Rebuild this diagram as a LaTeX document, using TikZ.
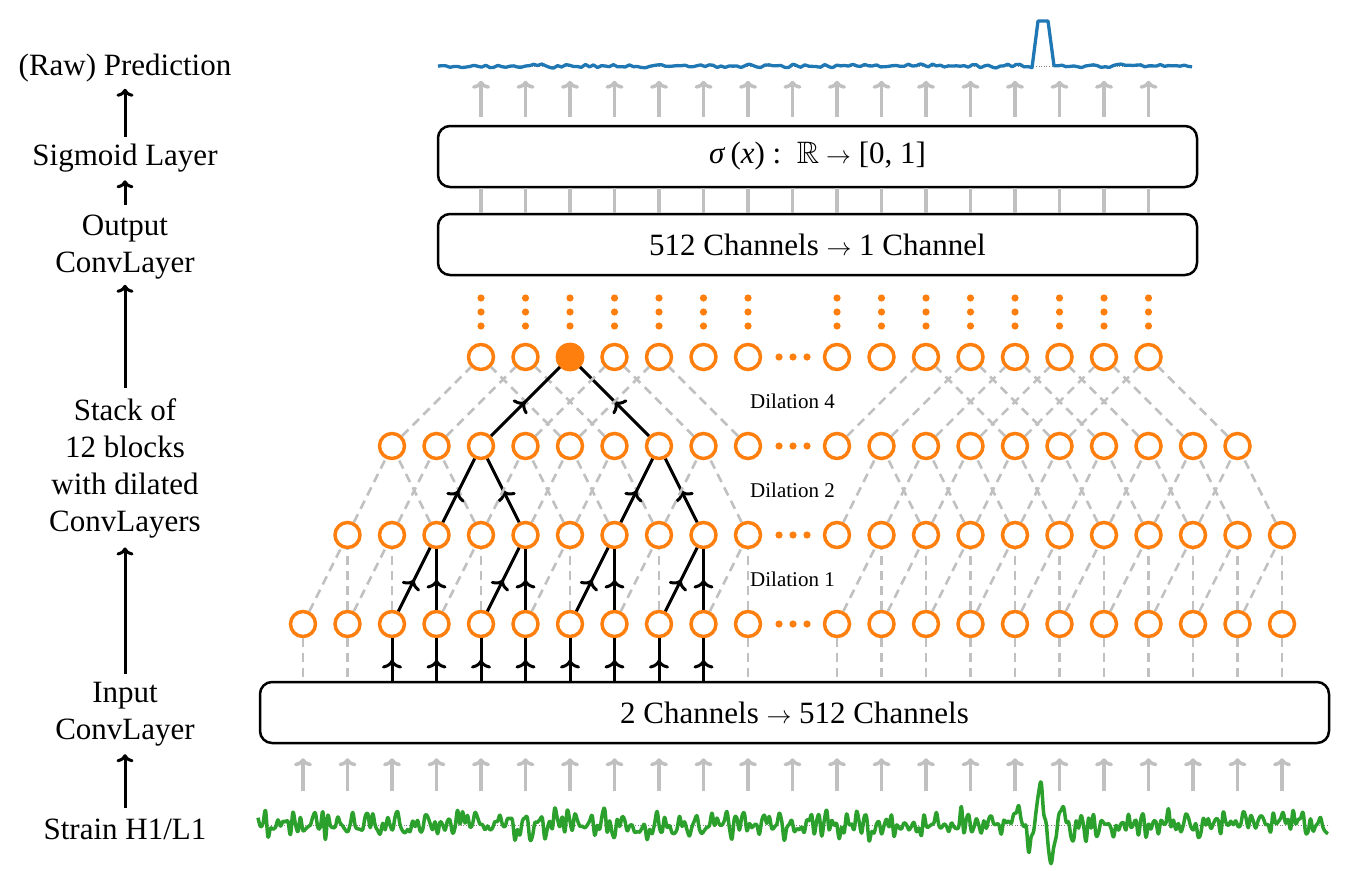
\documentclass[tikz,border=0pt]{standalone}
\usepackage{amssymb}
\usepackage{fontspec}
\setmainfont{Liberation Serif}
\usetikzlibrary{arrows.meta,decorations.markings,calc}
\definecolor{tOrange}{HTML}{FF7F0E}
\definecolor{tBlue}{HTML}{1F77B4}
\definecolor{tGreen}{HTML}{2CA02C}
\definecolor{lgray}{HTML}{C0C0C0}
\newcommand\bigfont{\rmfamily\fontsize{31}{37}\selectfont}
\newcommand\smfont{\rmfamily\fontsize{21}{25}\selectfont}
\begin{document}
\begin{tikzpicture}[x=1pt,y=-1pt,
  lbl/.style={font=\bigfont, inner sep=0pt, align=center},
  box/.style={draw=black, line width=2.5pt, rounded corners=12pt, minimum height=61pt, inner sep=0pt, font=\bigfont},
  circ/.style={circle, draw=tOrange, line width=3.5pt, minimum size=25pt, inner sep=0pt},
  gdash/.style={draw=lgray, line width=2.5pt, dash pattern=on 9pt off 6pt},
  bedge/.style={draw=black, line width=3pt, postaction={decorate, decoration={markings, mark=at position 0.5 with {\arrow{Computer Modern Rightarrow[length=9pt,width=20pt]}}}}},
  garrow/.style={draw=lgray, line width=3.5pt, -{Computer Modern Rightarrow[length=8pt,width=18pt]}},
  gline/.style={draw=lgray, line width=3.5pt},
  larrow/.style={draw=black, line width=3pt, -{Computer Modern Rightarrow[length=8pt,width=17pt]}},
  dil/.style={font=\smfont, inner sep=0pt}]
\useasboundingbox (0,0) rectangle (1348,870);

% column coordinates
\foreach \i in {0,...,22}{\coordinate (col-\i) at ({303+44.5*\i},0);}

% boxes
\node[box, minimum width=759pt] (sig) at (817.5,156.5) {\textit{σ}\,(\textit{x})\ :\ \ $\mathbb{R}\rightarrow$ [0, 1]};
\node[box, minimum width=759pt] (outc) at (817.5,244.5) {512 Channels $\rightarrow$ 1 Channel};
\node[box, minimum width=1069pt] (inc) at (794.5,712.5) {2 Channels $\rightarrow$ 512 Channels};

% left labels
\node[lbl] (pred) at (125,68.5) {(Raw) Prediction};
\node[lbl] (sigl) at (125,158) {Sigmoid Layer};
\node[lbl] (outl) at (125,247.5) {Output\\ConvLayer};
\node[lbl] (stackl) at (125,468.5) {Stack of\\12 blocks\\with dilated\\ConvLayers};
\node[lbl] (inl) at (125,714) {Input\\ConvLayer};
\node[lbl] (strl) at (125,829) {Strain H1/L1};

\draw[larrow] ($(sigl.north)+(0,-7)$) -- ($(pred.south)+(0,6)$);
\draw[larrow] ($(outl.north)+(0,-10)$) -- ($(sigl.south)+(0,8)$);
\draw[larrow] ($(stackl.north)+(0,-11)$) -- ($(outl.south)+(0,5)$);
\draw[larrow] ($(inl.north)+(0,-8)$) -- ($(stackl.south)+(0,9)$);
\draw[larrow] ($(strl.north)+(0,-10)$) -- ($(inl.south)+(0,8)$);

% neuron rows
\foreach \r/\a/\b in {0/0/22,1/1/22,2/2/21,3/4/19}{
  \foreach \i in {\a,...,\b}{
    \ifnum\i=11\relax\else
      \node[circ] (n-\r-\i) at ({303+44.5*\i},{624-89*\r}) {};
    \fi
  }
}
\fill[tOrange] (n-3-6) circle (14.3pt);

% horizontal dots in the gap
\foreach \r in {0,...,3}{
  \foreach \dx in {-14,0,14}{\fill[tOrange] ({793+\dx},{624-89*\r}) circle (3.6pt);}
}
% vertical dots above top row
\foreach \i in {4,...,19}{
  \ifnum\i=11\relax\else
    \foreach \yy in {298,312,326}{\fill[tOrange] ({303+44.5*\i},\yy) circle (3.6pt);}
  \fi
}

% dilation labels
\node[dil] (d4) at ($(n-3-10)!0.5!(n-2-12)$) {Dilation 4};
\node[dil] (d2) at ($(n-2-10)!0.5!(n-1-12)$) {Dilation 2};
\node[dil] (d1) at ($(n-1-10)!0.5!(n-0-12)$) {Dilation 1};

% connections between rows
\foreach \e in {1-3,1-5,1-7,1-9,2-4,2-8,3-6}{\expandafter\gdef\csname blk@\e\endcsname{}}
\foreach \r/\dl/\dh/\a/\b in {1/1/0/1/22,2/1/1/2/21,3/2/2/4/19}{
  \pgfmathtruncatemacro{\rl}{\r-1}
  \foreach \i in {\a,...,\b}{
    \ifnum\i=11\relax\else
      \pgfmathtruncatemacro{\lo}{\i-\dl}
      \pgfmathtruncatemacro{\hi}{\i+\dh}
      \pgfmathtruncatemacro{\ok}{or(and(\i<11,\hi<11),and(\i>11,\lo>11))}
      \ifnum\ok=1
        \ifcsname blk@\r-\i\endcsname
          \draw[bedge] (n-\rl-\lo) -- (n-\r-\i);
          \draw[bedge] (n-\rl-\hi) -- (n-\r-\i);
        \else
          \draw[gdash] (n-\rl-\lo) -- (n-\r-\i);
          \draw[gdash] (n-\rl-\hi) -- (n-\r-\i);
        \fi
      \fi
    \fi
  }
}

% bottom row to input box
\foreach \i in {0,...,22}{
  \ifnum\i=11\relax\else
    \pgfmathtruncatemacro{\isb}{and(\i>1,\i<10)}
    \ifnum\isb=1
      \draw[bedge] (n-0-\i |- inc.north) -- (n-0-\i);
    \else
      \draw[gdash] (n-0-\i) -- (n-0-\i |- inc.north);
    \fi
  \fi
}

% gray arrows and lines
\foreach \i in {4,...,19}{
  \draw[garrow] ($(col-\i |- sig.north)+(0,-8)$) -- ($(col-\i |- sig.north)+(0,-44)$);
  \draw[gline] (col-\i |- outc.north) -- (col-\i |- sig.south);
}
\foreach \i in {0,...,22}{
  \draw[garrow] ($(col-\i |- inc.south)+(0,47)$) -- ($(col-\i |- inc.south)+(0,14)$);
}

% signals
\pgfmathsetseed{11}
\draw[gray, line width=0.6pt, dotted] (438,66) -- (1192,66);
\draw[tBlue, line width=3.3pt, line join=round] plot[smooth, domain=438:1032, samples=150] (\x,{66+1.2*(rand+rand)}) -- (1038,21) -- (1048,21) -- plot[smooth, domain=1054:1192, samples=36] (\x,{66+1.2*(rand+rand)});
\draw[gray, line width=0.6pt, dotted] (258,825) -- (1328,825);
\draw[tGreen, line width=3.5pt, line join=round] plot[smooth, tension=0.6, domain=258:1328, samples=430] (\x,{825+7*(rand+rand+rand)+36*exp(-min(((\x-1045)/22)^2,10))*cos((\x-1051)*16.36)});
\end{tikzpicture}
\end{document}
